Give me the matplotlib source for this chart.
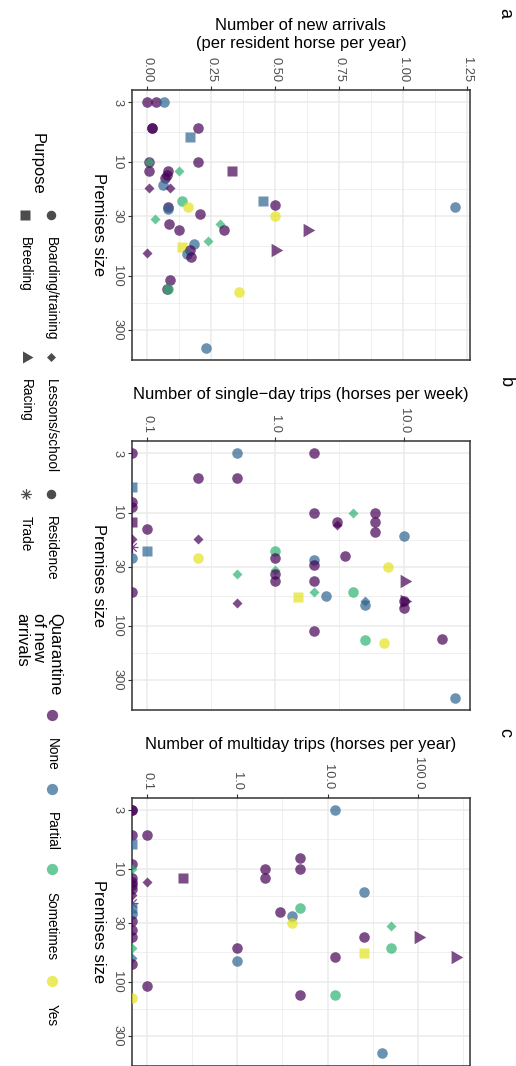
import numpy as np
import matplotlib
matplotlib.use("Agg")
import matplotlib.pyplot as plt
from matplotlib.path import Path
from matplotlib.colors import to_rgba
from matplotlib.ticker import FixedLocator, NullFormatter

plt.rcParams['font.family'] = ['Liberation Sans', 'DejaVu Sans']

# ---------------------------------------------------------------- data
# Purpose codes: BT boarding/training, BR breeding, LS lessons/school,
# RA racing, RE residence, TR trade.  Quarantine: N none, P partial,
# S sometimes, Y yes.  A value of 0 on a log axis sits on the panel edge.

# (a) new arrivals per resident horse per year
size_a = [3, 3, 3, 5, 5, 5, 6, 10, 10, 10, 12, 12, 12, 12, 13, 14, 16, 17, 17,
          22, 22, 25, 25, 26, 24, 25, 29, 30, 32, 35, 35, 40, 40, 40, 50, 53,
          56, 60, 60, 64, 63, 69, 110, 130, 130, 139, 430]
arrivals_a = [0.00, 0.034, 0.067, 0.018, 0.018, 0.20, 0.167, 0.008, 0.008, 0.20,
              0.332, 0.008, 0.083, 0.125, 0.077, 0.07, 0.063, 0.008, 0.09,
              0.135, 0.454, 0.161, 0.08, 0.08, 0.50, 1.20, 0.206, 0.50, 0.031,
              0.086, 0.284, 0.125, 0.30, 0.625, 0.239, 0.184, 0.135, 0.167,
              0.50, 0.154, 0.0, 0.171, 0.09, 0.077, 0.08, 0.357, 0.23]
purpose_a = ['BT', 'BT', 'BT', 'BT', 'BT', 'BT', 'BR', 'BT', 'LS', 'BT', 'BR', 'BT',
             'BT', 'LS', 'BT', 'BT', 'BT', 'LS', 'LS', 'BT', 'BR', 'BT', 'BT', 'BT',
             'BT', 'BT', 'BT', 'BT', 'LS', 'BT', 'LS', 'BT', 'BT', 'RA', 'LS', 'BT',
             'BR', 'BT', 'RA', 'BT', 'LS', 'BT', 'BT', 'BT', 'BT', 'BT', 'BT']
quarantine_a = ['N', 'N', 'P', 'N', 'N', 'N', 'P', 'N', 'S', 'N', 'N', 'N', 'N', 'S',
                'N', 'N', 'P', 'N', 'N', 'S', 'P', 'Y', 'N', 'P', 'N', 'P', 'N', 'Y',
                'S', 'N', 'S', 'N', 'N', 'N', 'S', 'P', 'Y', 'N', 'N', 'P', 'N', 'N',
                'N', 'N', 'S', 'Y', 'P']

# (b) single-day trips, horses per week
size_b = [3, 3, 3, 5, 5, 6, 8, 9, 10, 10, 10, 12, 12, 12, 13, 14, 15, 16, 17, 17,
          20, 22, 22, 24, 25, 25, 25, 26, 29, 30, 32, 35, 35, 40, 40, 40, 50, 50,
          50, 54, 56, 60, 63, 65, 60, 60, 70, 110, 130, 132, 140, 430]
trips_b = [0, 0.5, 2.0, 0.25, 0.5, 0, 0, 0, 2.0, 4.0, 6.0, 0, 3.0, 6.0, 3.0, 0.1,
           6.0, 10.0, 0, 0.25, 0, 0.1, 1.0, 3.5, 0, 0.25, 1.0, 2.0, 2.0, 7.5, 1.0,
           0.5, 1.0, 1.0, 2.0, 10.0, 0, 2.0, 4.0, 2.5, 1.5, 5.0, 0.5, 5.0, 10.0,
           10.0, 10.0, 2.0, 20.0, 5.0, 7.0, 25.0]
purpose_b = ['BT', 'BT', 'BT', 'BT', 'BT', 'BR', 'BT', 'BT', 'BT', 'LS', 'BT', 'BR',
             'BT', 'BT', 'LS', 'BT', 'BT', 'BT', 'LS', 'LS', 'TR', 'BR', 'BT', 'BT',
             'BT', 'BT', 'BT', 'BT', 'BT', 'BT', 'LS', 'LS', 'BT', 'BT', 'BT', 'RA',
             'BT', 'LS', 'BT', 'BT', 'BR', 'LS', 'LS', 'BT', 'BT', 'RA', 'BT', 'BT',
             'BT', 'BT', 'BT', 'BT']
quarantine_b = ['N', 'P', 'N', 'N', 'N', 'P', 'N', 'N', 'N', 'S', 'N', 'N', 'N', 'N',
                'N', 'N', 'N', 'P', 'N', 'N', 'N', 'P', 'S', 'N', 'P', 'Y', 'N', 'P',
                'N', 'Y', 'S', 'S', 'N', 'N', 'N', 'N', 'N', 'S', 'S', 'P', 'Y', 'P',
                'N', 'P', 'N', 'N', 'N', 'N', 'N', 'S', 'Y', 'P']

# (c) multiday trips, horses per year
size_c = [3, 3, 3, 5, 5, 6, 8, 9, 10, 10, 10, 12, 12, 12, 13, 13, 14, 15, 16, 17,
          20, 22, 22, 24, 25, 26, 29, 30, 32, 35, 40, 40, 40, 50, 50, 50, 56, 60,
          60, 61, 65, 70, 110, 130, 132, 139, 430]
trips_c = [0, 0, 12.0, 0, 0.1, 0, 5.0, 0, 0, 5.0, 2.0, 0, 2.0, 0.25, 0.1, 0, 0, 0,
           25.0, 0, 0, 0, 5.0, 3.0, 0, 4.0, 0, 4.0, 50.0, 0, 0, 25.0, 100.0, 1.0,
           50.0, 0, 25.0, 12.0, 255.0, 0, 1.0, 0, 0.1, 5.0, 12.0, 0, 40.0]
purpose_c = ['BT', 'BT', 'BT', 'BT', 'BT', 'BR', 'BT', 'BT', 'LS', 'BT', 'BT', 'BT',
             'BT', 'BR', 'LS', 'BT', 'BT', 'BT', 'BT', 'LS', 'TR', 'BR', 'BT', 'BT',
             'BT', 'BT', 'BT', 'BT', 'LS', 'BT', 'BT', 'BT', 'RA', 'BT', 'BT', 'LS',
             'BR', 'BT', 'RA', 'LS', 'BT', 'BT', 'BT', 'BT', 'BT', 'BT', 'BT']
quarantine_c = ['N', 'N', 'P', 'N', 'N', 'P', 'N', 'N', 'S', 'N', 'N', 'N', 'N', 'N',
                'N', 'N', 'N', 'N', 'P', 'N', 'N', 'P', 'S', 'N', 'P', 'P', 'N', 'Y',
                'S', 'N', 'N', 'N', 'N', 'N', 'S', 'S', 'Y', 'N', 'N', 'P', 'P', 'N',
                'N', 'N', 'S', 'Y', 'P']

premises_ticks = [3, 10, 30, 100, 300]
premises_minor = [5.477, 17.32, 54.77, 173.2]
ticks_a = [0.00, 0.25, 0.50, 0.75, 1.00, 1.25]
ticklabels_a = ['0.00', '0.25', '0.50', '0.75', '1.00', '1.25']
minor_a = [0.125, 0.375, 0.625, 0.875, 1.125]
ticks_b = [0.1, 1.0, 10.0]
ticklabels_b = ['0.1', '1.0', '10.0']
minor_b = [0.3162, 3.162]
ticks_c = [0.1, 1.0, 10.0, 100.0]
ticklabels_c = ['0.1', '1.0', '10.0', '100.0']
minor_c = [0.3162, 3.162, 31.62, 316.2]

purpose_names = {'BT': 'Boarding/training', 'BR': 'Breeding', 'LS': 'Lessons/school',
                 'RA': 'Racing', 'RE': 'Residence', 'TR': 'Trade'}
quarantine_names = {'N': 'None', 'P': 'Partial', 'S': 'Sometimes', 'Y': 'Yes'}
quarantine_colours = {'N': '#440154', 'P': '#2E6490', 'S': '#2DB271', 'Y': '#E4E21C'}
ALPHA = 0.7

# ---------------------------------------------------------------- markers
DIAMOND = Path([(0, 1), (1, 0), (0, -1), (-1, 0), (0, 1)],
               [Path.MOVETO, Path.LINETO, Path.LINETO, Path.LINETO, Path.CLOSEPOLY])
TRIANGLE = Path([(1, 0), (-0.5, 0.866), (-0.5, -0.866), (1, 0)],
                [Path.MOVETO, Path.LINETO, Path.LINETO, Path.CLOSEPOLY])
_d = 0.7071
ASTERISK = Path([(-1, 0), (1, 0), (0, -1), (0, 1), (-_d, -_d), (_d, _d), (-_d, _d), (_d, -_d)],
                [Path.MOVETO, Path.LINETO] * 4)

marker_style = {'BT': ('o', 7.6), 'BR': ('s', 7.8), 'LS': (DIAMOND, 7.2),
                'RA': (TRIANGLE, 11.2), 'RE': ('o', 7.6), 'TR': (ASTERISK, 8.6)}

# ---------------------------------------------------------------- figure
W, H, DPI = 516, 1066, 100
fig = plt.figure(figsize=(W / DPI, H / DPI), dpi=DPI)
fig.patch.set_facecolor('white')

GRID = '#EBEBEB'
DARK = '#333333'
TICKTXT = '#4D4D4D'


def px_axes(left, top, right, bottom):
    return fig.add_axes([left / W, 1 - bottom / H, (right - left) / W, (bottom - top) / H])


def expand(lo, hi, log):
    if log:
        lo, hi = np.log10(lo), np.log10(hi)
        span = hi - lo
        return 10 ** (lo - 0.05 * span), 10 ** (hi + 0.05 * span)
    span = hi - lo
    return lo - 0.05 * span, hi + 0.05 * span


def draw_mark(ax, x, y, code, q, ms_scale=1.0, **kw):
    marker, ms = marker_style[code]
    col = to_rgba(quarantine_colours[q], ALPHA) if q else to_rgba('black', ALPHA)
    if code == 'TR':
        ax.plot([x], [y], ls='none', marker=marker, ms=ms * ms_scale, mfc='none',
                mec=col, mew=0.9, **kw)
    else:
        ax.plot([x], [y], ls='none', marker=marker, ms=ms * ms_scale, mfc=col,
                mec='none', **kw)


def panel(box, sizes, values, purposes, quar, log, ticks, ticklabels, minor):
    ax = px_axes(*box)
    sizes = np.asarray(sizes, float)
    values = np.asarray(values, float)
    ylo, yhi = expand(sizes.min(), sizes.max(), True)
    if log:
        pos = values[values > 0]
        xlo, xhi = expand(pos.min(), pos.max(), True)
        ax.set_xscale('log')
    else:
        xlo, xhi = expand(values.min(), values.max(), False)
    ax.set_yscale('log')
    for s, v, p, q in zip(sizes, values, purposes, quar):
        x = v if (not log or v > 0) else xlo
        draw_mark(ax, x, s, p, q, zorder=3)
    ax.set_xlim(xlo, xhi)
    ax.set_ylim(yhi, ylo)

    ax.xaxis.tick_top()
    ax.set_xticks(ticks, ticklabels, rotation=-90, ha='center', va='bottom')
    ax.xaxis.set_minor_locator(FixedLocator(minor))
    ax.xaxis.set_minor_formatter(NullFormatter())
    ax.set_yticks(premises_ticks, [str(t) for t in premises_ticks],
                  rotation=-90, ha='right', va='center')
    ax.yaxis.set_minor_locator(FixedLocator(premises_minor))
    ax.yaxis.set_minor_formatter(NullFormatter())

    ax.tick_params(which='major', direction='out', length=2.9, width=0.8,
                   color=DARK, labelcolor=TICKTXT, labelsize=9.3)
    ax.tick_params(axis='x', which='both', top=True, bottom=False,
                   labeltop=True, labelbottom=False, pad=3.0)
    ax.tick_params(axis='y', pad=3.2)
    ax.tick_params(which='minor', length=0)
    ax.grid(which='major', color=GRID, lw=1.1)
    ax.grid(which='minor', color=GRID, lw=0.55)
    ax.set_axisbelow(True)
    for sp in ax.spines.values():
        sp.set_color(DARK)
        sp.set_linewidth(1.1)
    return ax


box_a = (131.7, 90.0, 470.0, 360.0)
box_b = (131.7, 441.0, 470.0, 710.0)
box_c = (131.7, 797.7, 470.0, 1065.5)

panel(box_a, size_a, arrivals_a, purpose_a, quarantine_a, False, ticks_a, ticklabels_a, minor_a)
panel(box_b, size_b, trips_b, purpose_b, quarantine_b, True, ticks_b, ticklabels_b, minor_b)
panel(box_c, size_c, trips_c, purpose_c, quarantine_c, True, ticks_c, ticklabels_c, minor_c)

# overlay in pixel units for titles, panel letters and legend
ov = fig.add_axes([0, 0, 1, 1])
ov.set_xlim(0, W)
ov.set_ylim(H, 0)
ov.axis('off')
ov.patch.set_visible(False)

TITLE = 11.9
cx = (box_a[0] + box_a[2]) / 2
ov.text(cx, 34.5, 'Number of new arrivals\n(per resident horse per year)', ha='center',
        va='center', fontsize=TITLE, linespacing=1.17)
ov.text(cx, 394.3, 'Number of single\u2212day trips (horses per week)', ha='center',
        va='center', fontsize=TITLE)
ov.text(cx, 745.0, 'Number of multiday trips (horses per year)', ha='center',
        va='center', fontsize=TITLE)

for box in (box_a, box_b, box_c):
    ov.text(98.3, (box[1] + box[3]) / 2, 'Premises size', rotation=-90, ha='center',
            va='center', fontsize=TITLE)

for letter, y in (('a', 12.7), ('b', 381.7), ('c', 732.0)):
    ov.text(505, y, letter, rotation=-90, ha='center', va='center', fontsize=13)

# legend: purpose (shapes)
LEG = 9.8
ov.text(37.5, 133.0, 'Purpose', rotation=-90, ha='center', va='top', fontsize=TITLE)
purpose_keys = [('BT', 50.5, 215.0), ('BR', 25.0, 215.0), ('LS', 50.5, 357.0),
                ('RA', 25.5, 357.0), ('RE', 50.5, 494.0), ('TR', 25.5, 494.0)]
for code, kx, ky in purpose_keys:
    draw_mark(ov, kx, ky, code, None, ms_scale=0.9)
    ov.text(kx, ky + 22.0, purpose_names[code], rotation=-90, ha='center', va='top',
            fontsize=LEG)

# legend: quarantine (colours)
ov.text(38.0, 613.0, 'Quarantine\nof new\narrivals', rotation=-90, ha='center', va='top',
        multialignment='left', fontsize=TITLE, linespacing=1.11)
for q, ky in (('N', 714.5), ('P', 789.0), ('S', 869.0), ('Y', 980.5)):
    ov.plot([51.5], [ky], ls='none', marker='o', ms=8.1,
            mfc=to_rgba(quarantine_colours[q], ALPHA), mec='none')
    ov.text(51.5, ky + 23.0, quarantine_names[q], rotation=-90, ha='center', va='top',
            fontsize=LEG)

fig.savefig('out.png', dpi=DPI)
